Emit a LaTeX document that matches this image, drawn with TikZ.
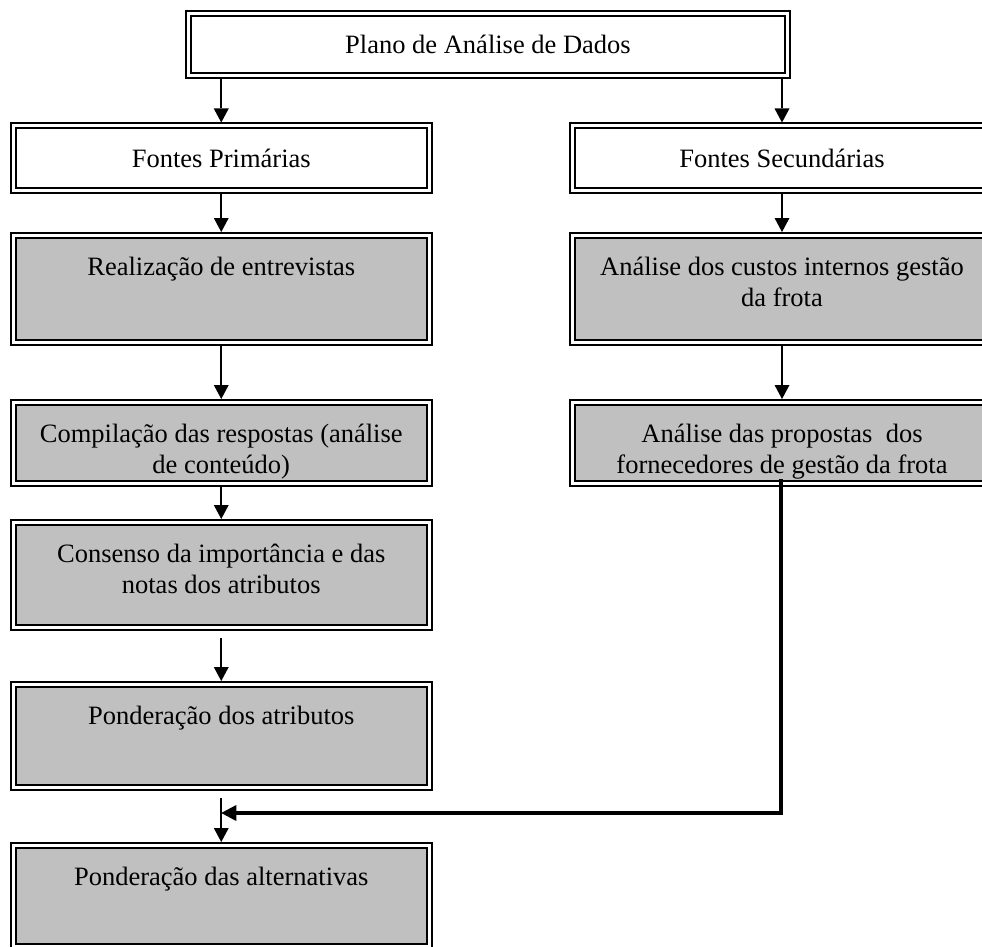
\documentclass[tikz,border=0pt]{standalone}
\usepackage{fontspec}
\setmainfont{Liberation Serif}
\usetikzlibrary{arrows.meta}
\definecolor{boxgray}{HTML}{C0C0C0}
\begin{document}
\begin{tikzpicture}[x=1pt,y=-1pt,
  frame/.style={rectangle, draw, double=white, double distance=3pt, line width=2pt,
    inner sep=0pt, outer sep=3.5pt, font=\fontsize{26.5}{31}\selectfont},
  plainbox/.style={frame, fill=white},
  graybox/.style={frame, fill=boxgray},
  boxtext/.style={anchor=north, inner sep=0pt, align=center, font=\fontsize{26.5}{31}\selectfont},
  flow/.style={line width=2pt, -{Triangle[width=15pt,length=14pt,line width=0pt]}},
  heavyflow/.style={line width=4.5pt, -{Triangle[width=16pt,length=15pt,line width=0pt]}}
]
\useasboundingbox (0,0) rectangle (982,947);
\clip (0,0) rectangle (982,947);

% header
\node[plainbox, minimum width=599pt, minimum height=62.5pt] (plano) at (488,44.75) {Plano de Análise de Dados};

% the two source columns
\node[plainbox, minimum width=416.5pt, minimum height=64pt] (fp) at (221.25,158) {Fontes Primárias};
\node[plainbox, minimum width=419pt, minimum height=64pt] (fs) at (782,158) {Fontes Secundárias};

% left column steps
\node[graybox, minimum width=416.5pt, minimum height=107pt] (real) at (221.25,289) {};
\node[graybox, minimum width=416.5pt, minimum height=81pt] (comp) at (221.25,443) {};
\node[graybox, minimum width=416.5pt, minimum height=105pt] (cons) at (221.25,575) {};
\node[graybox, minimum width=416.5pt, minimum height=103pt] (pa) at (221.25,736) {};
\node[graybox, minimum width=416.5pt, minimum height=101pt] (palt) at (221.25,896) {};

% right column steps
\node[graybox, minimum width=419pt, minimum height=107pt] (custos) at (782,289) {};
\node[graybox, minimum width=419pt, minimum height=81pt] (prop) at (782,443) {};

% box texts, set near the top of each box
\node[boxtext] (treal) at ([yshift=-22pt]real.north) {\strut Realização de entrevistas};
\node[boxtext] (tcomp) at ([yshift=-22pt]comp.north) {\strut Compilação das respostas (análise\\de conteúdo)};
\node[boxtext] (tcons) at ([yshift=-22pt]cons.north) {\strut Consenso da importância e das\\notas dos atributos};
\node[boxtext] (tpa) at ([yshift=-22pt]pa.north) {\strut Ponderação dos atributos};
\node[boxtext] (tpalt) at ([yshift=-22pt]palt.north) {\strut Ponderação das alternativas};
\node[boxtext] (tcustos) at ([yshift=-22pt]custos.north) {\strut Análise dos custos internos gestão\\da frota};
\node[boxtext] (tprop) at ([yshift=-22pt]prop.north) {\strut Análise das propostas\ \ dos\\fornecedores de gestão da frota};

% connectors
\draw[flow] (fp.north |- plano.south) -- (fp.north);
\draw[flow] (fs.north |- plano.south) -- (fs.north);
\draw[flow] (fp.south) -- (real.north);
\draw[flow] (real.south) -- (comp.north);
\draw[flow] (comp.south) -- (cons.north);
\draw[flow, shorten <=7pt] (cons.south) -- (pa.north);
\draw[flow, shorten <=7pt] (pa.south) -- (palt.north);
\draw[flow] (fs.south) -- (custos.north);
\draw[flow] (custos.south) -- (prop.north);

% secondary results feed the final weighting
\coordinate (join) at (221.25,813);
\draw[heavyflow] ([xshift=-1pt,yshift=8pt]prop.south) |- (join);
\end{tikzpicture}
\end{document}
